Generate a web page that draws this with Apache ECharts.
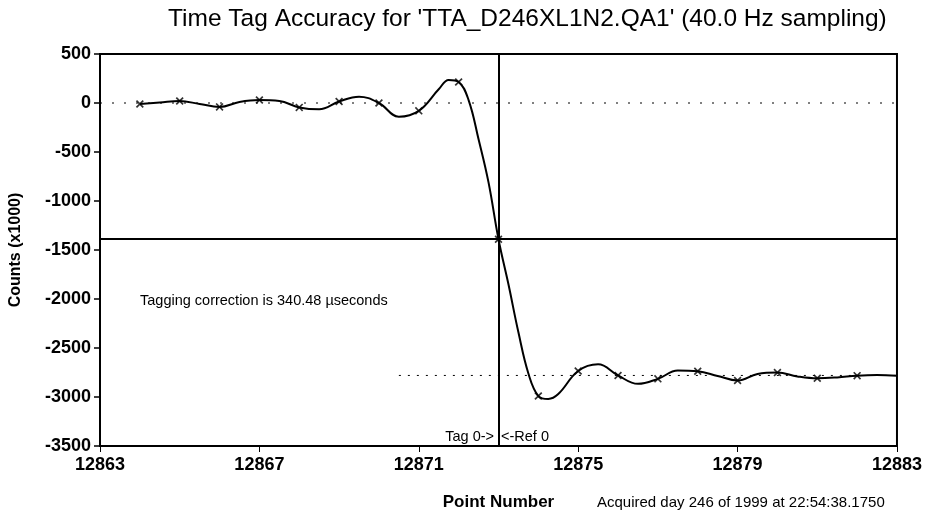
<!DOCTYPE html>
<html>
<head>
<meta charset="utf-8">
<script src="https://cdn.jsdelivr.net/npm/echarts@6/dist/echarts.min.js"></script>
<style>
  html, body { margin: 0; padding: 0; background: #fff; }
  #chartmain { width: 925px; height: 516px; }
</style>
</head>
<body>
<div id="chartmain"></div>
<script>
// interpolated trace (point number, counts x1000)
var curveX = [12864, 12864.5, 12865, 12865.5, 12866, 12866.5, 12867, 12867.5, 12868, 12868.5,
  12869, 12869.5, 12870, 12870.5, 12871, 12871.5, 12871.75, 12872, 12872.25, 12872.5, 12872.75,
  12873, 12873.25, 12873.5, 12873.75, 12874, 12874.25, 12874.5, 12875, 12875.5, 12876, 12876.5,
  12877, 12877.5, 12878, 12878.5, 12879, 12879.5, 12880, 12880.5, 12881, 12881.5, 12882, 12882.5, 12883];
var curveY = [-10, 5, 20, -10, -40, 10, 30, 20, -45, -65,
  15, 65, 0, -140, -80, 140, 235, 215, 30, -370, -810,
  -1390, -1850, -2340, -2760, -2990, -3020, -2970, -2735, -2667, -2780, -2866,
  -2815, -2730, -2738, -2785, -2832, -2765, -2751, -2790, -2809, -2800, -2782, -2775, -2782];

// the samples themselves (marked with x)
var sampleX = [12864, 12865, 12866, 12867, 12868, 12869, 12870, 12871, 12872, 12873,
  12874, 12875, 12876, 12877, 12878, 12879, 12880, 12881, 12882];
var sampleY = [-10, 20, -40, 30, -45, 15, 0, -80, 215, -1390,
  -2990, -2735, -2780, -2815, -2738, -2832, -2751, -2809, -2782];

// levels before / after the step, the tag line and the crossing level
var preLevel = 0;
var postLevel = -2780;
var tagPoint = 12873;
var crossLevel = -1390;

var xTicks = { min: 12863, max: 12883, step: 4 };
var yTicks = { min: -3500, max: 500, step: 500 };

var font = 'Liberation Sans, Arial, sans-serif';

var curve = [];
for (var i = 0; i < curveX.length; i++) {
  curve.push([curveX[i], curveY[i]]);
}
var samples = [];
for (var j = 0; j < sampleX.length; j++) {
  samples.push([sampleX[j], sampleY[j]]);
}

// little "x" used for the samples
var cross = 'path://M0,1.5L1.5,0L5,3.5L8.5,0L10,1.5L6.5,5L10,8.5L8.5,10L5,6.5L1.5,10L0,8.5L3.5,5Z';

var plain = function (v) { return String(v); };

var option = {
  backgroundColor: '#fff',
  animation: false,
  title: {
    text: "Time Tag Accuracy for 'TTA_D246XL1N2.QA1' (40.0 Hz sampling)",
    left: 163,
    top: 2,
    textStyle: { fontFamily: font, fontSize: 24.5, fontWeight: 'normal', color: '#000' }
  },
  grid: {
    left: 100, right: 27, top: 54, bottom: 69,
    show: true, borderColor: '#000', borderWidth: 2, backgroundColor: 'transparent'
  },
  xAxis: {
    type: 'value',
    min: xTicks.min, max: xTicks.max, interval: xTicks.step,
    name: 'Point Number',
    nameLocation: 'middle',
    nameGap: 48,
    nameTextStyle: { fontFamily: font, fontSize: 17, fontWeight: 'bold', color: '#000' },
    axisLine: { show: true, onZero: false, lineStyle: { color: '#000', width: 2 } },
    axisTick: { show: true, inside: false, length: 6, lineStyle: { color: '#000', width: 1 } },
    axisLabel: { fontFamily: font, fontSize: 18, fontWeight: 'bold', color: '#000', margin: 10,
      formatter: plain },
    splitLine: { show: false }
  },
  yAxis: {
    type: 'value',
    min: yTicks.min, max: yTicks.max, interval: yTicks.step,
    name: 'Counts (x1000)',
    nameLocation: 'middle',
    nameGap: 76,
    nameRotate: 90,
    nameTextStyle: { fontFamily: font, fontSize: 16, fontWeight: 'bold', color: '#000' },
    axisLine: { show: true, onZero: false, lineStyle: { color: '#000', width: 2 } },
    axisTick: { show: true, inside: false, length: 6, lineStyle: { color: '#000', width: 1.5 } },
    axisLabel: { fontFamily: font, fontSize: 18, fontWeight: 'bold', color: '#000', margin: 9,
      formatter: plain },
    splitLine: { show: false }
  },
  series: [
    {
      type: 'line',
      silent: true,
      symbol: 'none',
      data: [[xTicks.min, preLevel], [xTicks.max, preLevel]],
      lineStyle: { color: '#000', width: 1, type: [2, 10] },
      z: 1
    },
    {
      type: 'line',
      silent: true,
      symbol: 'none',
      data: [[12870.5, postLevel], [xTicks.max, postLevel]],
      lineStyle: { color: '#000', width: 1, type: [2, 7] },
      z: 1
    },
    {
      type: 'line',
      silent: true,
      symbol: 'none',
      smooth: 0.4,
      data: curve,
      lineStyle: { color: '#000', width: 2 },
      markLine: {
        silent: true,
        symbol: 'none',
        label: { show: false },
        lineStyle: { color: '#000', width: 2, type: 'solid' },
        data: [{ xAxis: tagPoint }, { yAxis: crossLevel }]
      },
      z: 3
    },
    {
      type: 'scatter',
      silent: true,
      symbol: cross,
      symbolSize: 8,
      data: samples,
      itemStyle: { color: '#000' },
      z: 4
    }
  ],
  graphic: [
    {
      type: 'text', left: 140, top: 293,
      style: { text: 'Tagging correction is 340.48 \u00b5seconds', fill: '#000',
        font: '14.5px ' + font }
    },
    {
      type: 'text', x: 494, y: 429,
      style: { text: 'Tag 0->', fill: '#000', align: 'right', font: '14.5px ' + font }
    },
    {
      type: 'text', x: 501, y: 429,
      style: { text: '<-Ref 0', fill: '#000', align: 'left', font: '14.5px ' + font }
    },
    {
      type: 'text', x: 597, y: 495,
      style: { text: 'Acquired day 246 of 1999 at 22:54:38.1750', fill: '#000',
        font: '15px ' + font }
    }
  ]
};

var myChart = echarts.init(document.getElementById('chartmain'));
myChart.setOption(option);
</script>
</body>
</html>
